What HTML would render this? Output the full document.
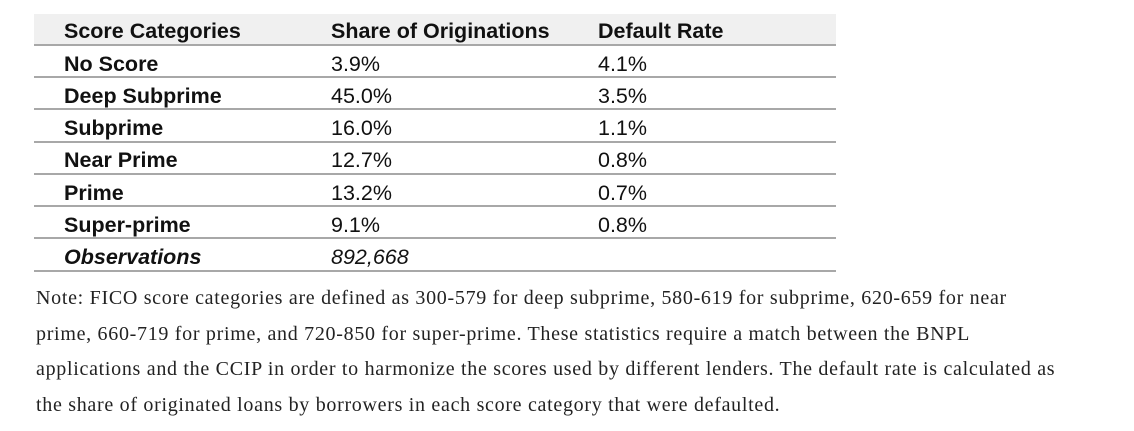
<!DOCTYPE html>
<html><head><style>
body{margin:0;width:1134px;height:431px;background:#fff;position:relative;overflow:hidden;font-family:"Liberation Sans",Arial,sans-serif;}
.hdr{position:absolute;left:34px;top:14px;width:802px;height:31px;background:#f0f0f0;}
.ln{position:absolute;left:34px;width:802px;height:2px;background:#a8a8a8;}
.t{position:absolute;font-size:21.5px;color:#111;white-space:nowrap;line-height:22px;}
.b{font-weight:bold;}
.note{position:absolute;left:36px;top:281px;width:1090px;font-family:"Liberation Serif",serif;font-size:20px;letter-spacing:0.7px;line-height:35.5px;color:#222;white-space:nowrap;}
</style></head><body>
<div class="hdr"></div>
<div class="ln" style="top:44px"></div>
<div class="ln" style="top:76px"></div>
<div class="ln" style="top:108px"></div>
<div class="ln" style="top:141px"></div>
<div class="ln" style="top:173px"></div>
<div class="ln" style="top:205px"></div>
<div class="ln" style="top:237px"></div>
<div class="ln" style="top:270px"></div>

<div class="t b" style="left:64px;top:20px">Score Categories</div>
<div class="t b" style="left:331px;top:20px">Share of Originations</div>
<div class="t b" style="left:598px;top:20px">Default Rate</div>

<div class="t b" style="left:64px;top:53px">No Score</div>
<div class="t" style="left:331px;top:53px">3.9%</div>
<div class="t" style="left:598px;top:53px">4.1%</div>

<div class="t b" style="left:64px;top:85px">Deep Subprime</div>
<div class="t" style="left:331px;top:85px">45.0%</div>
<div class="t" style="left:598px;top:85px">3.5%</div>

<div class="t b" style="left:64px;top:117px">Subprime</div>
<div class="t" style="left:331px;top:117px">16.0%</div>
<div class="t" style="left:598px;top:117px">1.1%</div>

<div class="t b" style="left:64px;top:149px">Near Prime</div>
<div class="t" style="left:331px;top:149px">12.7%</div>
<div class="t" style="left:598px;top:149px">0.8%</div>

<div class="t b" style="left:64px;top:182px">Prime</div>
<div class="t" style="left:331px;top:182px">13.2%</div>
<div class="t" style="left:598px;top:182px">0.7%</div>

<div class="t b" style="left:64px;top:214px">Super-prime</div>
<div class="t" style="left:331px;top:214px">9.1%</div>
<div class="t" style="left:598px;top:214px">0.8%</div>

<div class="t b" style="left:64px;top:246px;font-style:italic">Observations</div>
<div class="t" style="left:331px;top:246px;font-style:italic">892,668</div>

<div class="note">Note: FICO score categories are defined as 300-579 for deep subprime, 580-619 for subprime, 620-659 for near<br>prime, 660-719 for prime, and 720-850 for super-prime. These statistics require a match between the BNPL<br>applications and the CCIP in order to harmonize the scores used by different lenders. The default rate is calculated as<br>the share of originated loans by borrowers in each score category that were defaulted.</div>
</body></html>
